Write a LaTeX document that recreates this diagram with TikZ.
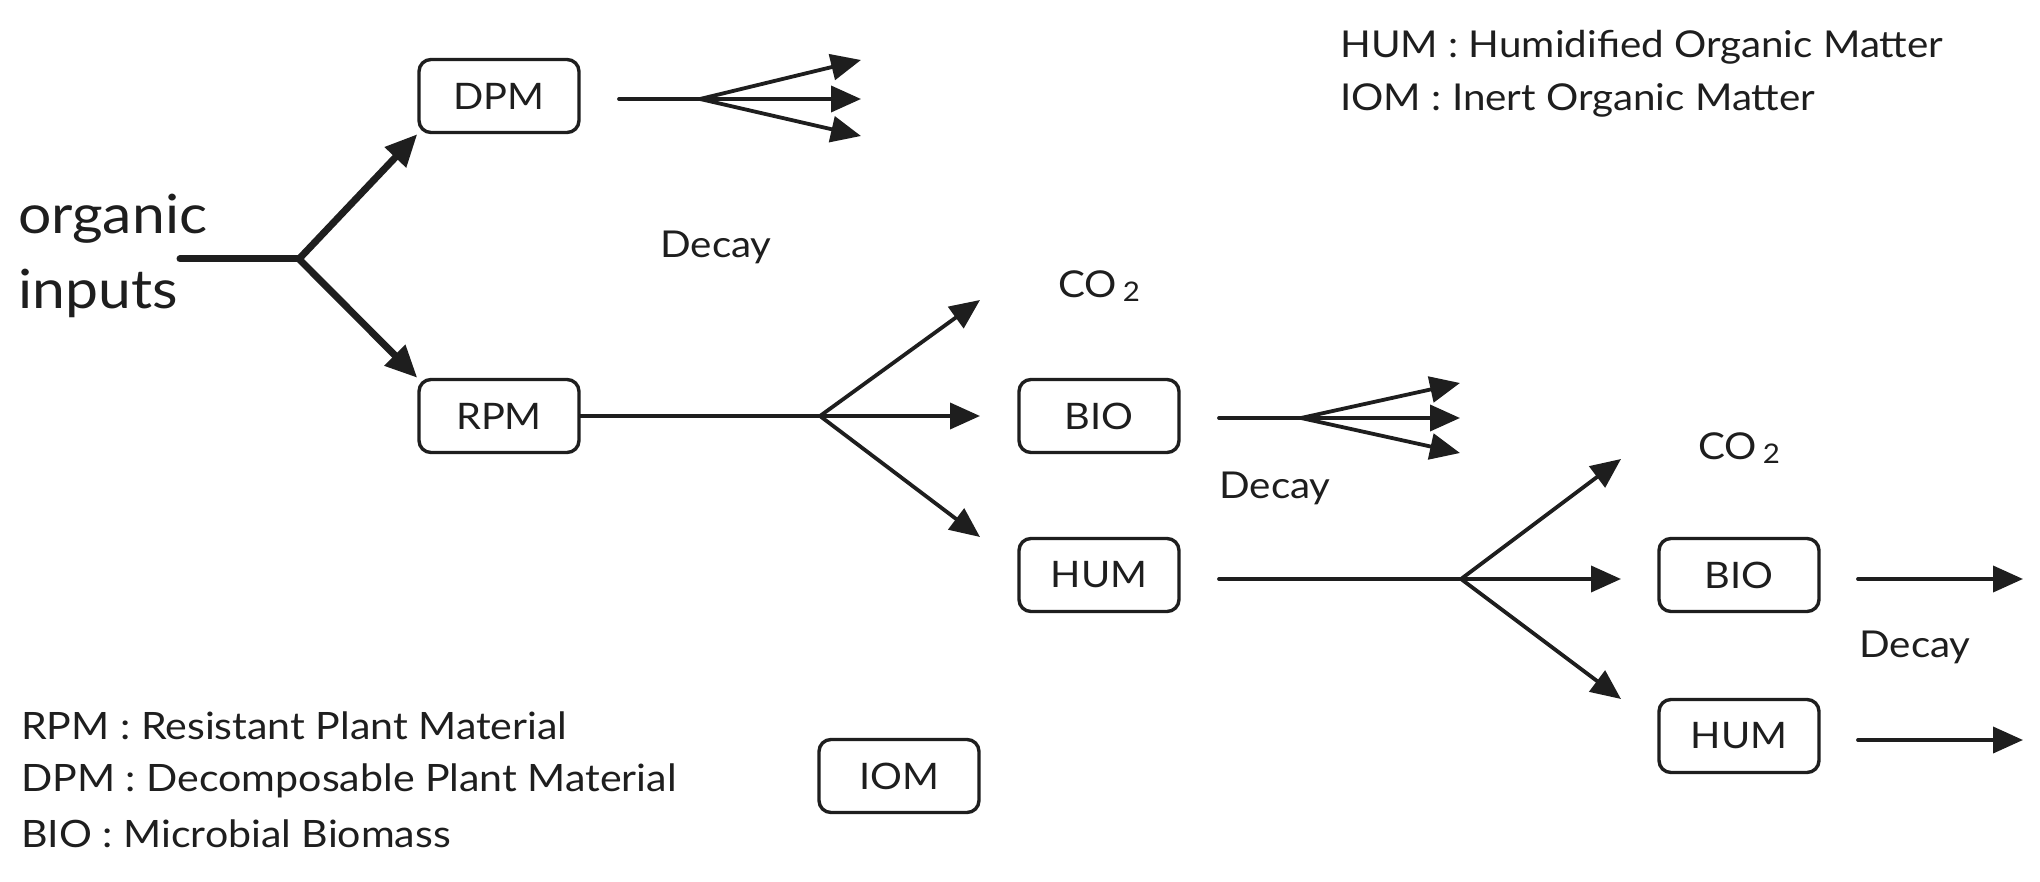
\documentclass[tikz,border=0pt]{standalone}
\usepackage{fontspec}
\setmainfont{Lato}[FakeStretch=1.09]
\usetikzlibrary{arrows.meta}
\definecolor{ink}{HTML}{1E1E1E}
\begin{document}
\begin{tikzpicture}[x=1pt,y=-1pt,
  box/.style={draw=ink, line width=3.4pt, rounded corners=12pt, minimum width=160pt, minimum height=73pt, inner sep=0pt, text=ink, font=\fontsize{36.5}{40}\selectfont},
  lbl/.style={text=ink, inner sep=0pt, font=\fontsize{37}{40}\selectfont},
  legend/.style={text=ink, inner sep=0pt, anchor=west, font=\fontsize{37.7}{40}\selectfont},
  legendb/.style={legend, font=\fontsize{37}{40}\selectfont},
  conn/.style={draw=ink, line width=3.8pt, line cap=round},
  arr/.style={conn, -{Triangle[length=30pt,width=26pt]}},
  bold/.style={draw=ink, line width=7pt, line cap=round},
  boldarr/.style={bold, -{Triangle[length=32pt,width=28pt]}}
]
\fill[white] (0,0) rectangle (2040,882);
\useasboundingbox (0,0) rectangle (2040,882);

% boxes
\node[box] (dpm) at (499,96) {DPM};
\node[box] (rpm) at (499,416) {RPM};
\node[box] (bio1) at (1099,416) {BIO};
\node[box] (hum1) at (1099,575) {HUM};
\node[box] (bio2) at (1739,575) {BIO};
\node[box] (hum2) at (1739,736) {HUM};
\node[box] (iom) at (899,776) {IOM};

% organic inputs
\node[anchor=west, align=left, text=ink, inner sep=0pt, font=\fontsize{54}{75}\selectfont] (org) at (18,256) {organic\\inputs};
\coordinate (o0) at (180,259);
\coordinate (o1) at (299,259);
\draw[bold] (o0) -- (o1);
\draw[boldarr] (o1) -- (dpm.south west);
\draw[boldarr] (o1) -- (rpm.north west);

% DPM decay
\coordinate (d0) at (619,99);
\coordinate (d1) at (700,99);
\coordinate (d2) at (861,60);
\coordinate (d3) at (861,99);
\coordinate (d4) at (861,136);
\draw[conn] (d0) -- (d1);
\draw[arr] (d1) -- (d2);
\draw[arr] (d1) -- (d3);
\draw[arr] (d1) -- (d4);
\node[lbl] (decay1) at (716,247) {Decay};

% RPM decay
\coordinate (r1) at (820,416);
\coordinate (r2) at (980,300);
\coordinate (r3) at (980,416);
\coordinate (r4) at (980,537);
\draw[conn] (rpm.east) -- (r1);
\draw[arr] (r1) -- (r2);
\draw[arr] (r1) -- (r3);
\draw[arr] (r1) -- (r4);
\node[lbl] (co2a) at (1099,286) {CO\,\raisebox{-0.12em}{\fontsize{27}{30}\selectfont 2}};

% BIO1 decay
\coordinate (b0) at (1219,418);
\coordinate (b1) at (1301,418);
\coordinate (b2) at (1460,383);
\coordinate (b3) at (1460,418);
\coordinate (b4) at (1460,453);
\draw[conn] (b0) -- (b1);
\draw[arr] (b1) -- (b2);
\draw[arr] (b1) -- (b3);
\draw[arr] (b1) -- (b4);
\node[lbl] (decay2) at (1275,488) {Decay};

% HUM1 decay
\coordinate (h0) at (1219,579);
\coordinate (h1) at (1461,579);
\coordinate (h2) at (1621,459);
\coordinate (h3) at (1621,579);
\coordinate (h4) at (1621,699);
\draw[conn] (h0) -- (h1);
\draw[arr] (h1) -- (h2);
\draw[arr] (h1) -- (h3);
\draw[arr] (h1) -- (h4);
\node[lbl] (co2b) at (1739,448) {CO\,\raisebox{-0.12em}{\fontsize{27}{30}\selectfont 2}};

% BIO2 / HUM2 outflows
\coordinate (p0) at (1858,579);
\coordinate (p1) at (2023,579);
\coordinate (q0) at (1858,740);
\coordinate (q1) at (2023,740);
\draw[arr] (p0) -- (p1);
\draw[arr] (q0) -- (q1);
\node[lbl] (decay3) at (1915,647) {Decay};

% legends
\node[legend] (lg1) at (21,726) {RPM : Resistant Plant Material};
\node[legend] (lg2) at (21,781) {DPM : Decomposable Plant Material};
\node[legend] (lg3) at (21,834) {BIO : Microbial Biomass};
\node[legendb] (lg4) at (1340,47) {HUM : Humidified Organic Matter};
\node[legendb] (lg5) at (1340,100) {IOM : Inert Organic Matter};
\end{tikzpicture}
\end{document}
